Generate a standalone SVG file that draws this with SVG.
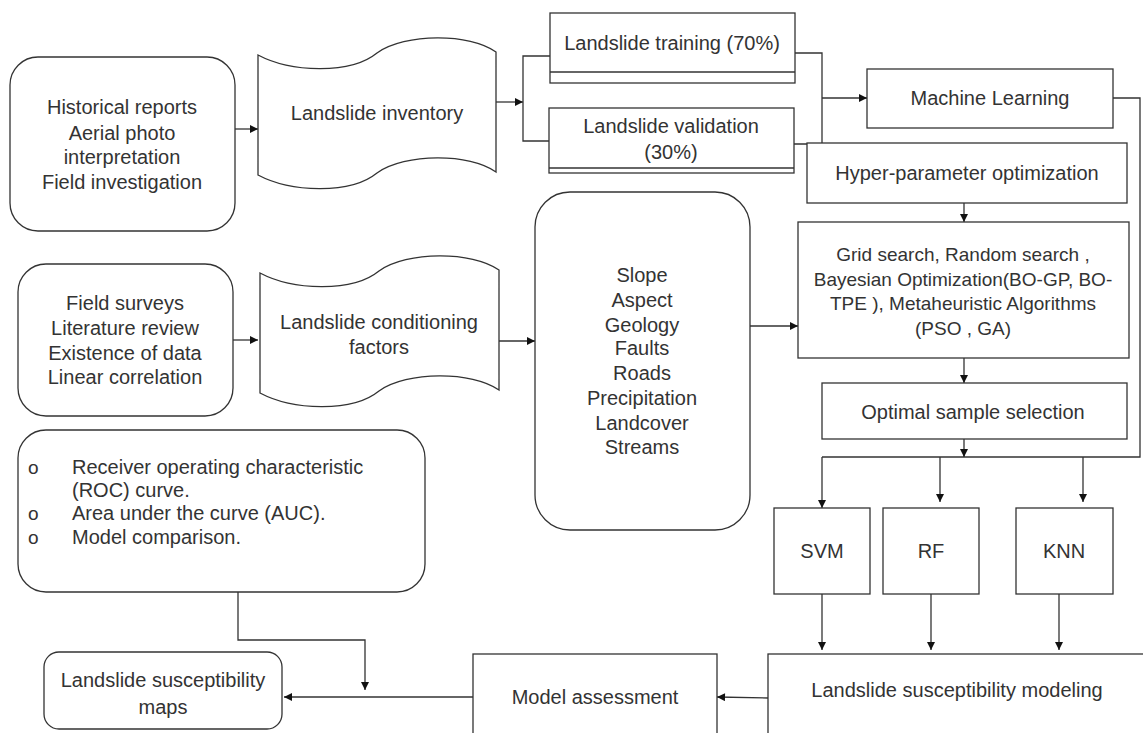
<svg xmlns="http://www.w3.org/2000/svg" width="1143" height="733" viewBox="0 0 1143 733">
<defs>
<marker id="ah" viewBox="0 0 10 10" refX="10" refY="5" markerWidth="9" markerHeight="8" markerUnits="userSpaceOnUse" orient="auto">
<path d="M0,0 L10,5 L0,10 z" fill="#111"/>
</marker>
<style>
.n{fill:#fff;stroke:#333;stroke-width:1.3}
.t{font-family:"Liberation Sans",Arial,sans-serif;font-size:20px;fill:#333;text-anchor:middle}
.ts{font-family:"Liberation Sans",Arial,sans-serif;font-size:19px;fill:#333;text-anchor:middle}
.tl{font-family:"Liberation Sans",Arial,sans-serif;font-size:20px;fill:#333}
.b{font-family:"Liberation Sans",Arial,sans-serif;font-size:19px;fill:#333}
.c{fill:none;stroke:#333;stroke-width:1.3}
.a{fill:none;stroke:#333;stroke-width:1.3;marker-end:url(#ah)}
</style>
</defs>
<rect width="1143" height="733" fill="#fff"/>

<g id="connectors">
<path class="a" d="M235,129 L258,129"/>
<path class="a" d="M496,102 L523,102"/>
<path class="c" d="M550,56 L523,56 L523,141 L549,141"/>
<path class="c" d="M795,53 L822,53 L822,144 L794,144"/>
<path class="a" d="M822,98 L867,98"/>
<path class="c" d="M1113,98 L1140,98 L1140,457 L822,457"/>
<path class="a" d="M964,203 L964,222"/>
<path class="a" d="M964,358 L964,383"/>
<path class="a" d="M964,439 L964,457"/>
<path class="a" d="M822,457 L822,508"/>
<path class="a" d="M940,457 L940,502"/>
<path class="a" d="M1083,457 L1083,502"/>
<path class="a" d="M822,594 L822,650"/>
<path class="a" d="M931,594 L931,650"/>
<path class="a" d="M1059,594 L1059,650"/>
<path class="a" d="M233,340 L258,340"/>
<path class="a" d="M499,341 L535,341"/>
<path class="a" d="M750,326 L798,326"/>
<path class="a" d="M768,698 L717,697"/>
<path class="a" d="M473,697 L284,697"/>
<path class="a" d="M238,592 L238,640 L365,640 L365,690"/>
</g>

<g id="historical">
<rect class="n" x="10" y="57" width="225" height="174" rx="28"/>
<text class="t" x="122" y="114">Historical reports</text>
<text class="t" x="122" y="140">Aerial photo</text>
<text class="t" x="122" y="164">interpretation</text>
<text class="t" x="122" y="189">Field investigation</text>
</g>

<g id="inventory">
<path class="n" d="M258,55 C290,72 350,75 377,53 C405,33 470,33 496,52 L496,172 C470,153 405,153 377,173 C350,195 290,192 258,175 Z"/>
<text class="t" x="377" y="120">Landslide inventory</text>
</g>

<g id="training">
<rect class="n" x="550" y="13" width="245" height="70"/>
<line class="c" x1="550" y1="72" x2="795" y2="72"/>
<text class="t" x="672" y="50">Landslide training (70%)</text>
</g>

<g id="validation">
<rect class="n" x="549" y="108" width="245" height="65"/>
<line class="c" x1="549" y1="168" x2="794" y2="168"/>
<text class="t" x="671" y="133">Landslide validation</text>
<text class="t" x="671" y="159">(30%)</text>
</g>

<g id="ml">
<rect class="n" x="867" y="69" width="246" height="59"/>
<text class="t" x="990" y="105">Machine Learning</text>
</g>

<g id="hyper">
<rect class="n" x="807" y="143" width="320" height="60"/>
<text class="t" x="967" y="180">Hyper-parameter optimization</text>
</g>

<g id="search">
<rect class="n" x="798" y="222" width="331" height="136"/>
<text class="ts" x="963" y="261">Grid search, Random search ,</text>
<text class="ts" x="963" y="286">Bayesian Optimization(BO-GP, BO-</text>
<text class="ts" x="963" y="310">TPE ), Metaheuristic Algorithms</text>
<text class="ts" x="963" y="335">(PSO , GA)</text>
</g>

<g id="optimal">
<rect class="n" x="822" y="383" width="305" height="56"/>
<text class="t" x="973" y="419">Optimal sample selection</text>
</g>

<g id="svm">
<rect class="n" x="774" y="508" width="96" height="86"/>
<text class="t" x="822" y="558">SVM</text>
</g>
<g id="rf">
<rect class="n" x="883" y="508" width="96" height="86"/>
<text class="t" x="931" y="558">RF</text>
</g>
<g id="knn">
<rect class="n" x="1016" y="508" width="97" height="86"/>
<text class="t" x="1064" y="558">KNN</text>
</g>

<g id="modeling">
<rect class="n" x="768" y="654" width="400" height="100"/>
<text class="t" x="957" y="697">Landslide susceptibility modeling</text>
</g>

<g id="assessment">
<rect class="n" x="473" y="654" width="244" height="100"/>
<text class="t" x="595" y="704">Model assessment</text>
</g>

<g id="maps">
<rect class="n" x="44" y="652" width="238" height="77" rx="15"/>
<text class="t" x="163" y="687">Landslide susceptibility</text>
<text class="t" x="163" y="714">maps</text>
</g>

<g id="evaluation">
<rect class="n" x="18" y="430" width="407" height="162" rx="28"/>
<text class="b" x="28" y="474">o</text>
<text class="tl" x="72" y="474">Receiver operating characteristic</text>
<text class="tl" x="72" y="497">(ROC) curve.</text>
<text class="b" x="28" y="520">o</text>
<text class="tl" x="72" y="520">Area under the curve (AUC).</text>
<text class="b" x="28" y="544">o</text>
<text class="tl" x="72" y="544">Model comparison.</text>
</g>

<g id="surveys">
<rect class="n" x="18" y="264" width="215" height="152" rx="28"/>
<text class="t" x="125" y="310">Field surveys</text>
<text class="t" x="125" y="335">Literature review</text>
<text class="t" x="125" y="360">Existence of data</text>
<text class="t" x="125" y="384">Linear correlation</text>
</g>

<g id="conditioning">
<path class="n" d="M260,273 C292,290 352,293 379,271 C407,251 472,251 499,270 L499,390 C472,371 407,371 379,391 C352,413 292,410 260,393 Z"/>
<text class="t" x="379" y="329">Landslide conditioning</text>
<text class="t" x="379" y="354">factors</text>
</g>

<g id="factors">
<rect class="n" x="535" y="192" width="215" height="338" rx="35"/>
<text class="t" x="642" y="282">Slope</text>
<text class="t" x="642" y="307">Aspect</text>
<text class="t" x="642" y="332">Geology</text>
<text class="t" x="642" y="355">Faults</text>
<text class="t" x="642" y="380">Roads</text>
<text class="t" x="642" y="405">Precipitation</text>
<text class="t" x="642" y="430">Landcover</text>
<text class="t" x="642" y="454">Streams</text>
</g>
</svg>
